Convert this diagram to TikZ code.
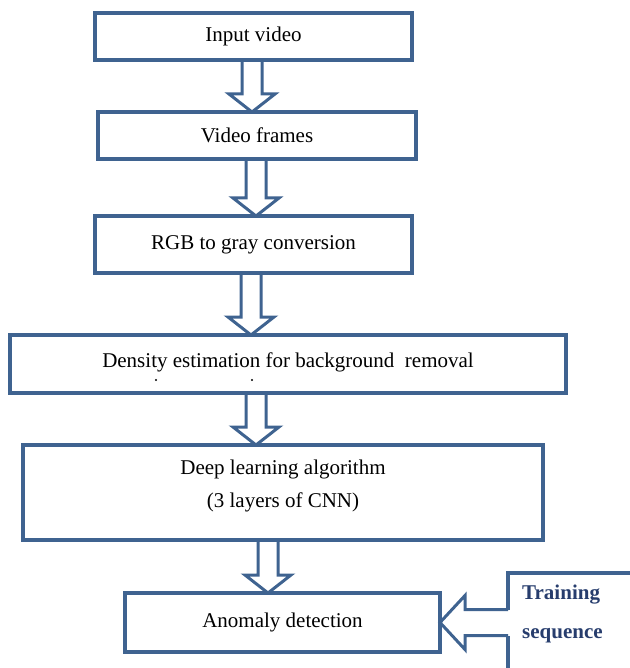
\documentclass[tikz,border=0pt]{standalone}
\usepackage{fontspec}
\setmainfont{Liberation Serif}
\usepackage{xcolor}
\usetikzlibrary{positioning}
\usetikzlibrary{calc}
\definecolor{boxblue}{HTML}{3F6390}
\definecolor{trainblue}{HTML}{273D6D}
\tikzset{main node/.style={rectangle,draw=boxblue,line width=3.5pt,inner sep=0pt,outer sep=0pt,font=\fontsize{21}{33}\selectfont,align=center},
  hollow/.style={draw=boxblue,line width=3pt},}

% hollow block arrow: from node, to node, x of the shaft
\newcommand{\hollowdown}[3]{%
  \draw[hollow] let \p1=(#1.south), \p2=(#2.north) in
    (#3pt-10pt,\y1) -- (#3pt-10pt,\y2+18pt) -- (#3pt-23pt,\y2+18pt) -- (#3pt,\y2)
    -- (#3pt+23pt,\y2+18pt) -- (#3pt+10pt,\y2+18pt) -- (#3pt+10pt,\y1);}

\begin{document}
\begin{tikzpicture}[x=1pt,y=-1pt]
	\useasboundingbox (0,0) rectangle (629,668);

    \node[main node, minimum width=317pt, minimum height=47pt] (1) at (253.5,36.5) {Input video};
    \node[main node, minimum width=318pt, minimum height=47pt] (2) [below = 52pt of 1, xshift=3.5pt] {Video frames};
    \node[main node, minimum width=317pt, minimum height=57pt] (3) [below = 57pt of 2, xshift=-3.5pt] {RGB to gray conversion};
    \node[main node, minimum width=556pt, minimum height=58pt, text depth=8pt] (4) [below = 62pt of 3, xshift=34.5pt] {Density estimation for background~ removal};
    \node[main node, minimum width=520pt, minimum height=95pt, text depth=17pt] (5) [below = 52pt of 4, xshift=-5pt] {Deep learning algorithm\\(3 layers of CNN)};
    \node[main node, minimum width=315pt, minimum height=59pt] (6) [below = 53pt of 5, xshift=-0.5pt] {Anomaly detection};
    \node[main node, anchor=north west, minimum width=170pt, minimum height=140pt] (7) at (508,573) {};
    \node[inner sep=0pt, align=left, text=trainblue, font=\bfseries\fontsize{21}{39}\selectfont] (8) [below right = 12pt and 14pt of 7.north west] {Training\\sequence};

    \fill (156,380) circle (1.2pt);
    \fill (252,380) circle (1.2pt);

    \hollowdown{1}{2}{252}
    \hollowdown{2}{3}{256}
    \hollowdown{3}{4}{251}
    \hollowdown{4}{5}{256}
    \hollowdown{5}{6}{268}

    \fill[white] let \p1=(6.east), \p2=(7.west) in (\x2-4pt,\y1+13pt) rectangle (\x2+6pt,\y1-13pt);
    \draw[hollow] let \p1=(6.east), \p2=(7.west) in
    (\x2,\y1+13pt) -- (\x1+25pt,\y1+13pt) -- (\x1+25pt,\y1+27pt) -- (\x1,\y1)
    -- (\x1+25pt,\y1-27pt) -- (\x1+25pt,\y1-13pt) -- (\x2,\y1-13pt);

\end{tikzpicture}
\end{document}
